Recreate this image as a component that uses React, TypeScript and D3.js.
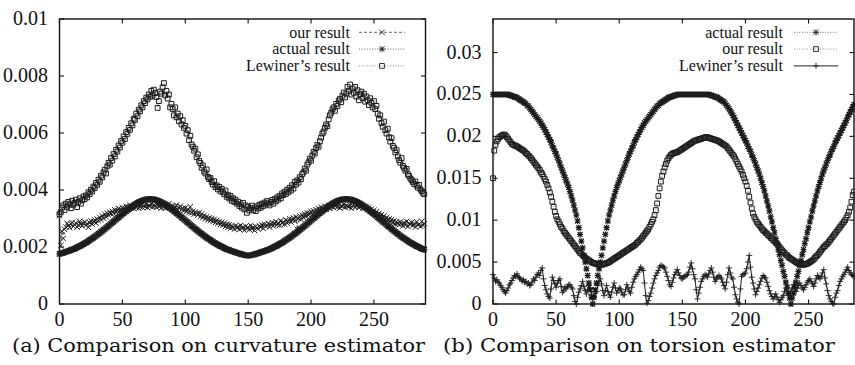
import React from 'react';
import * as d3 from 'd3';

// ---------- DATA ----------
// (a) curvature estimator, samples x = 0..290
const curvOur = [
  .0031,.00205,.00255,.0023,.00262,.0027,.00283,.00275,.00268,.00281,
  .00286,.00272,.00279,.00284,.0027,.00277,.0029,.00281,.00274,.00283,
  .00288,.00276,.00282,.00269,.00285,.00291,.0028,.00289,.00295,.00284,
  .00298,.00292,.00304,.00296,.00309,.00301,.00315,.00306,.00318,.00312,
  .00322,.00316,.00325,.00318,.0033,.00321,.00328,.00335,.00326,.00332,
  .00338,.00329,.00336,.00343,.00333,.0034,.00346,.00337,.00341,.00335,
  .00344,.00338,.00347,.00336,.00342,.00349,.00339,.00345,.00341,.0035,
  .00338,.00346,.00343,.00352,.0034,.00347,.00344,.00339,.00348,.00342,
  .00345,.00337,.00349,.00341,.00336,.00346,.0034,.00352,.00343,.00338,
  .00344,.00334,.00341,.00347,.0033,.00338,.00343,.00331,.00336,.00328,
  .00337,.00325,.00333,.00321,.00341,.0032,.00326,.00315,.00323,.00318,
  .00312,.0032,.00307,.00316,.00304,.00311,.00299,.00306,.00296,.00302,
  .00293,.003,.00289,.00297,.00286,.00294,.00283,.0029,.00279,.00287,
  .00276,.00284,.00272,.0028,.00269,.00278,.00266,.00275,.0027,.00263,
  .00274,.00267,.00271,.00262,.00276,.00265,.0027,.00259,.00273,.00266,
  .00268,.00262,.00275,.00264,.0027,.00258,.00272,.00267,.00263,.00274,
  .00269,.00277,.00265,.0028,.00272,.00276,.00283,.0027,.00279,.00286,
  .00274,.00282,.00289,.00278,.00285,.00276,.00292,.00283,.00288,.0028,
  .00295,.00284,.00291,.00299,.00288,.00296,.00302,.00291,.00305,.00262,
  .003,.00309,.00297,.00312,.00303,.00316,.00307,.0032,.00311,.00318,
  .00325,.00314,.00327,.0032,.00331,.00323,.00335,.00328,.00339,.0033,
  .00336,.00343,.00332,.0034,.00346,.00335,.00342,.00349,.00338,.00344,
  .00347,.0034,.00351,.00337,.00345,.00342,.0035,.00339,.00346,.00343,
  .00341,.00348,.00336,.00345,.0035,.00339,.00344,.00347,.00338,.00343,
  .00346,.00337,.00342,.00335,.0034,.00331,.00338,.00327,.00333,.00322,
  .00329,.00317,.00324,.00312,.00318,.00307,.00314,.00301,.00309,.00298,
  .00303,.00294,.00299,.00288,.00296,.00285,.00292,.0028,.00289,.00284,
  .00278,.00288,.00281,.00274,.00285,.00277,.0029,.00272,.00283,.00279,
  .00286,.00275,.00282,.0027,.00288,.00277,.00281,.00273,.0029,.00276,
  .00282,
];
const curvActual = [
  .00176,.00177,.00178,.0018,.00181,.00183,.00184,.00186,.00187,.00189,
  .00191,.00192,.00194,.00196,.00199,.00201,.00203,.00205,.00208,.0021,
  .00213,.00215,.00218,.00221,.00224,.00227,.0023,.00233,.00236,.00239,
  .00243,.00246,.00249,.00253,.00256,.0026,.00263,.00267,.00271,.00274,
  .00278,.00282,.00286,.00289,.00293,.00297,.00301,.00304,.00308,.00312,
  .00316,.00319,.00323,.00326,.0033,.00333,.00337,.0034,.00343,.00346,
  .00349,.00352,.00354,.00357,.00359,.00361,.00363,.00364,.00366,.00367,
  .00367,.00368,.00368,
  .00368,.00367,.00367,.00366,.00364,.00363,.00361,.00359,.00357,.00354,
  .00352,.00349,.00346,.00343,.0034,.00337,.00333,.0033,.00326,.00323,
  .00319,.00316,.00312,.00308,.00304,.00301,.00297,.00293,.00289,.00286,
  .00282,.00278,.00274,.00271,.00267,.00263,.0026,.00256,.00253,.00249,
  .00246,.00243,.00239,.00236,.00233,.0023,.00227,.00224,.00221,.00218,
  .00215,.00213,.0021,.00208,.00205,.00203,.00201,.00199,.00196,.00194,
  .00192,.00191,.00189,.00187,.00186,.00184,.00183,.00181,.0018,.00178,
  .00177,.00176,.00174,.00173,.00172,.00171,.00171,.0017,
  .00171,.00171,.00172,.00173,.00174,.00176,.00177,.00178,.0018,.00181,
  .00183,.00184,.00186,.00187,.00189,.00191,.00192,.00194,.00196,.00199,
  .00201,.00203,.00205,.00208,.0021,.00213,.00215,.00218,.00221,.00224,
  .00227,.0023,.00233,.00236,.00239,.00243,.00246,.00249,.00253,.00256,
  .0026,.00263,.00267,.00271,.00274,.00278,.00282,.00286,.00289,.00293,
  .00297,.00301,.00304,.00308,.00312,.00316,.00319,.00323,.00326,.0033,
  .00333,.00337,.0034,.00343,.00346,.00349,.00352,.00354,.00357,.00359,
  .00361,.00363,.00364,.00366,.00367,.00367,.00368,.00368,
  .00368,.00367,.00367,.00366,.00364,.00363,.00361,.00359,.00357,.00354,
  .00352,.00349,.00346,.00343,.0034,.00337,.00333,.0033,.00326,.00323,
  .00319,.00316,.00312,.00308,.00304,.00301,.00297,.00293,.00289,.00286,
  .00282,.00278,.00274,.00271,.00267,.00263,.0026,.00256,.00253,.00249,
  .00246,.00243,.00239,.00236,.00233,.0023,.00227,.00224,.00221,.00218,
  .00215,.00213,.0021,.00208,.00205,.00203,.00201,.00199,.00196,.00194,
  .00192,.00191,
];
const curvLewiner = [
  .00315,.00322,.00338,.00346,.0033,.00352,.00341,.00358,.00349,.00336,
  .00362,.00348,.00355,.00366,.0034,.00358,.00371,.00352,.00364,.00377,
  .00368,.00381,.00374,.00392,.00386,.00401,.00395,.00412,.00407,.00425,
  .00418,.00436,.00429,.0045,.00444,.00462,.00471,.00458,.00483,.00495,
  .00489,.00512,.00503,.00526,.00518,.00541,.00535,.00556,.00549,.00572,
  .00566,.00588,.00579,.00603,.00597,.00618,.00611,.00634,.00627,.0065,
  .00646,.00668,.00659,.00682,.00676,.00697,.0069,.00712,.00705,.00724,
  .00718,.00735,.00727,.00748,.00731,.00752,.0074,.00726,.00688,.00712,
  .00745,.00738,.0076,.00775,.00732,.00748,.00721,.00735,.0069,.00702,
  .00684,.00662,.0069,.00655,.00668,.00641,.00659,.0063,.00645,.00618,
  .00625,.00598,.0061,.00575,.0059,.0056,.00552,.00538,.00545,.00515,
  .00525,.00502,.00495,.00478,.00486,.00465,.00458,.00472,.00446,.00438,
  .00442,.00428,.00419,.00431,.0041,.00416,.00402,.00411,.00395,.00404,
  .00392,.00385,.00398,.00376,.00382,.0037,.00379,.00362,.00371,.00358,
  .00366,.00352,.00359,.00344,.0035,.00338,.00355,.00332,.00346,.0032,
  .00341,.00328,.00336,.00345,.0033,.00338,.00326,.00343,.00335,.00348,
  .00338,.00352,.00344,.00356,.00349,.00361,.00353,.00346,.00358,.00365,
  .00352,.00368,.0036,.00374,.00366,.00379,.00371,.00388,.00382,.00394,
  .00386,.00401,.00392,.00408,.00398,.00417,.00405,.00428,.00419,.00434,
  .00426,.00445,.00438,.00456,.00462,.00475,.00468,.00489,.00497,.0051,
  .00503,.00521,.00534,.00528,.00547,.00558,.00552,.00571,.00584,.00598,
  .00605,.00618,.0063,.00624,.00648,.00662,.00671,.00683,.0069,.00678,
  .00702,.00695,.00714,.0072,.00708,.00731,.00742,.00725,.00738,.00762,
  .00748,.0077,.00735,.00756,.00741,.00762,.00728,.0075,.00715,.00736,
  .00745,.00722,.00738,.0071,.00728,.00715,.00698,.00722,.00706,.0069,
  .00712,.00684,.00695,.00668,.0065,.00662,.00635,.00622,.0064,.0061,
  .00598,.00615,.00585,.0057,.00582,.00555,.00548,.00532,.0054,.00518,
  .00505,.00496,.00512,.00485,.00478,.00468,.00474,.00455,.00449,.0044,
  .00435,.00428,.00421,.0043,.00415,.00408,.00418,.00402,.00396,.0039,
  .00385,
];

// (b) torsion estimator, samples x = 0..286
const torsActual = [
  .025,.025,.025,.025,.025,.025,.025,.025,.025,.025,.025,.025,.025,
  .0249,.0249,.0248,.0248,.0247,.0247,.0246,.0245,.0244,.0243,.0242,.0241,.024,.0239,
  .0237,.0236,.0234,.0232,.023,.0228,.0226,.0224,.0222,.022,.0218,.0216,.0213,.0211,
  .0208,.0205,.0202,.0199,.0196,.0193,.0189,.0186,.0182,.0179,.0175,.0171,.0167,.0163,
  .0159,.0155,.0151,.0147,.0143,.0139,.0134,.0129,.0124,.0118,.0112,.0106,.0099,.0091,
  .0083,.0075,.0067,.0058,.005,.0042,.0034,.0025,.0017,.0008,0,
  .0008,.0017,.0025,.0034,.0042,.005,.0058,.0067,.0075,.0083,.0091,.0099,.0106,.0112,
  .0118,.0124,.0129,.0134,.0139,.0143,.0147,.0151,.0155,.0159,.0163,.0167,.0171,.0175,
  .0179,.0182,.0186,.0189,.0193,.0196,.0199,.0202,.0205,.0208,.0211,.0213,.0216,.0218,
  .022,.0222,.0224,.0226,.0228,.023,.0232,.0234,.0236,.0237,.0239,.024,.0241,.0242,
  .0243,.0244,.0245,.0246,.0247,.0247,.0248,.0248,.0249,.0249,.025,
  .025,.025,.025,.025,.025,.025,.025,.025,.025,.025,.025,
  .025,.025,.025,.025,.025,.025,.025,.025,.025,.025,.025,.025,.025,.025,
  .0249,.0249,.0248,.0248,.0247,.0247,.0246,.0245,.0244,.0243,.0242,.0241,.0239,.0237,
  .0235,.0233,.023,.0228,.0225,.0222,.0219,.0216,.0213,.021,.0207,.0204,.0201,.0198,
  .0195,.0192,.0188,.0185,.0182,.0178,.0175,.0171,.0167,.0163,.0159,.0155,.015,.0145,
  .014,.0135,.0129,.0123,.0117,.0111,.0104,.0098,.0091,.0085,.0078,.0072,.0065,.0059,
  .0052,.0046,.0039,.0033,.0026,.002,.0013,.0007,0,
  .0007,.0013,.002,.0026,.0033,.0039,.0046,.0052,.0059,.0065,.0072,.0078,.0085,.0091,
  .0098,.0104,.0111,.0117,.0123,.0129,.0135,.014,.0145,.015,.0155,.0159,.0163,.0167,
  .0171,.0175,.0178,.0182,.0185,.0188,.0192,.0195,.0198,.0201,.0204,.0207,.021,.0213,
  .0216,.0219,.0223,.0226,.0229,.0232,.0235,.0238,
];
const torsOur = [
  .015,.0183,.019,.0194,.0197,.0199,.02,.0201,.0202,.0202,
  .0201,.0199,.0197,.0195,.0193,.0191,.019,.0189,.0189,.0188,
  .0187,.0186,.0185,.0184,.0183,.0182,.018,.0179,.0177,.0176,
  .0174,.0172,.017,.0168,.0166,.0164,.0162,.016,.0157,.0155,
  .0152,.0149,.0146,.0142,.0138,.0133,.0128,.0122,.0116,.011,
  .0105,.0101,.0098,.0095,.0092,.009,.0087,.0085,.0083,.0081,
  .0079,.0077,.0075,.0073,.0071,.0069,.0067,.0065,.0063,.0061,
  .006,.0058,.0057,.0055,.0054,.0053,.0052,.0051,.005,.0049,
  .0049,.0048,.0048,.0047,.0047,.0047,.0047,.0047,.0048,.0048,
  .0049,.0049,.005,.0051,.0052,.0053,.0054,.0055,.0056,.0057,
  .0058,.0059,.006,.0061,.0062,.0063,.0064,.0065,.0066,.0067,
  .0068,.0069,.007,.0071,.0073,.0074,.0076,.0077,.0079,.0081,
  .0083,.0085,.0087,.0089,.0092,.0095,.0098,.0101,.0106,.0112,
  .012,.0129,.0138,.0146,.0153,.0158,.0163,.0167,.0171,.0174,
  .0176,.0178,.0179,.018,.018,.0181,.0181,.0182,.0183,.0184,
  .0185,.0186,.0187,.0188,.0189,.019,.0191,.0192,.0193,.0194,
  .0195,.0195,.0196,.0196,.0197,.0197,.0198,.0198,.0199,.0199,
  .0199,.0198,.0198,.0197,.0197,.0196,.0196,.0195,.0195,.0194,
  .0193,.0192,.0191,.019,.0189,.0188,.0186,.0184,.0182,.018,
  .0178,.0176,.0173,.017,.0167,.0164,.0161,.0158,.0154,.015,
  .0146,.0141,.0135,.0128,.0121,.0114,.0108,.0104,.0101,.0098,
  .0096,.0094,.0092,.009,.0088,.0087,.0085,.0084,.0082,.0081,
  .0079,.0078,.0076,.0075,.0073,.0072,.007,.0068,.0066,.0064,
  .0062,.0061,.0059,.0058,.0056,.0055,.0054,.0053,.0052,.0051,
  .005,.0049,.0048,.0048,.0047,.0047,.0047,.0047,.0048,.0048,
  .0049,.005,.0051,.0052,.0053,.0055,.0057,.0058,.006,.0062,
  .0064,.0066,.0068,.0069,.0071,.0072,.0074,.0076,.0078,.008,
  .0082,.0084,.0086,.0088,.009,.0092,.0094,.0096,.0098,.01,
  .0103,.0106,.011,.0115,.0122,.013,.0134,
];
const torsLewiner = [
  .0035,.0031,.0027,.0029,.0026,.0025,.0022,.002,.0017,.0015,
  .0013,.0016,.0019,.0023,.0025,.0028,.0031,.0034,.0033,.0036,
  .0032,.0031,.003,.0027,.0029,.0026,.0027,.0024,.0025,.0022,
  .0023,.0026,.003,.0028,.0032,.0035,.0037,.0034,.004,.0043,
  .003,.0022,.0017,.0012,.0009,.0007,.0018,.0032,.0028,.0024,
  .002,.0025,.0028,.003,.0021,.0014,.0016,.002,.0018,.0021,
  .0023,.0023,.002,.0018,.001,.0003,0,.0008,.0014,.0018,
  .0022,.0027,.0021,.0016,.0012,.0017,.0022,.0019,.0011,.0006,
  .0009,.0013,.0015,.0022,.0027,.003,.0024,.0016,.001,.0016,
  .0022,.0015,.0011,.0008,.0014,.002,.0025,.0019,.0013,.0016,
  .0019,.0018,.0014,.0011,.0011,.0017,.0023,.0019,.0015,.0013,
  .002,.0026,.003,.0033,.0035,.0038,.0041,.0044,.0042,.004,
  .0025,.001,.0001,.0004,.0009,.0013,.0019,.0025,.003,.0034,
  .0037,.004,.0044,.0046,.0045,.0044,.0043,.0038,.0033,.0028,
  .0023,.0021,.0026,.0031,.0035,.0038,.0041,.0037,.0034,.0031,
  .003,.0032,.0033,.0034,.0035,.0038,.0044,.0049,.0042,.0035,
  .003,.0017,.0006,.0013,.002,.0027,.003,.0033,.0035,.0034,
  .0032,.0036,.004,.0043,.0038,.0032,.0027,.003,.0032,.0034,
  .0032,.003,.0026,.0022,.0018,.0026,.0035,.0043,.0037,.0032,
  .003,.002,.0011,.0006,.0002,0,.0018,.0033,.0035,.0036,
  .0037,.0042,.005,.0058,.0044,.0032,.0025,.0018,.0011,.0015,
  .0019,.0023,.0027,.0031,.0034,.0032,.0031,.0026,.0021,.0016,
  .0012,.0009,.0006,.0009,.0012,.0008,.0005,.0002,.0005,.0008,
  .001,.0015,.0019,.0015,.0012,.001,.0015,.0019,.0023,.0019,
  .0015,.0019,.0022,.0025,.0022,.0019,.0017,.002,.0023,.0026,
  .0028,.003,.0027,.0024,.0021,.0025,.003,.0034,.0032,.003,
  .0033,.0037,.0041,.0031,.0024,.0016,.001,.0006,.0003,.0001,
  0,.0008,.0013,.0016,.0022,.0027,.003,.0033,.0035,.0038,
  .0041,.0044,.004,.0037,.0035,.0034,.0033,
];

const curvXTicks = [0, 50, 100, 150, 200, 250];
const curvYTicks = [0, 0.002, 0.004, 0.006, 0.008, 0.01];
const curvYTickLabels = ['0', '0.002', '0.004', '0.006', '0.008', '0.01'];
const torsXTicks = [0, 50, 100, 150, 200, 250];
const torsYTicks = [0, 0.005, 0.01, 0.015, 0.02, 0.025, 0.03];
const torsYTickLabels = ['0', '0.005', '0.01', '0.015', '0.02', '0.025', '0.03'];
const curvLabels = ['our result', 'actual result', 'Lewiner\u2019s result'];
const torsLabels = ['actual result', 'our result', 'Lewiner\u2019s result'];
const captions = ['(a) Comparison on curvature estimator', '(b) Comparison on torsion estimator'];

// ---------- DRAWING ----------
type Series = {
  label: string;
  values: number[];
  marker: 'cross' | 'star' | 'square' | 'plus';
  size: number;
  markWidth: number;
  dash: string | undefined;
  lineColor: string;
  lineWidth: number;
};

function addMarker(p: d3.Path, kind: string, cx: number, cy: number, s: number) {
  if (kind === 'cross' || kind === 'star') {
    p.moveTo(cx - s, cy - s); p.lineTo(cx + s, cy + s);
    p.moveTo(cx - s, cy + s); p.lineTo(cx + s, cy - s);
  }
  if (kind === 'plus' || kind === 'star') {
    const t = kind === 'star' ? s * 1.2 : s;
    p.moveTo(cx - t, cy); p.lineTo(cx + t, cy);
    p.moveTo(cx, cy - t); p.lineTo(cx, cy + t);
  }
  if (kind === 'square') {
    p.rect(cx - s, cy - s, 2 * s, 2 * s);
  }
}

const MARK = '#1c1c1c';
const SERIF = 'Liberation Serif';

function Panel(props: {
  L: number; R: number; T: number; B: number;
  xMax: number; yMax: number;
  xTicks: number[]; yTicks: number[]; yTickLabels: string[];
  series: Series[];
  legendTextX: number; legendX0: number; legendX1: number; legendY0: number;
}) {
  const { L, R, T, B, xMax, yMax, xTicks, yTicks, yTickLabels, series, legendTextX, legendX0, legendX1, legendY0 } = props;
  const x = d3.scaleLinear().domain([0, xMax]).range([L, R]);
  const y = d3.scaleLinear().domain([0, yMax]).range([B, T]);
  const line = d3.line<number>().x((_, i) => x(i)).y((v) => y(v));
  const tl = 4.5;
  return (
    <g>
      <rect x={L} y={T} width={R - L} height={B - T} fill="none" stroke="#111" strokeWidth={1.4} />
      {xTicks.map((t) => (
        <g key={'xt' + t}>
          <line x1={x(t)} x2={x(t)} y1={B} y2={B - tl} stroke="#111" strokeWidth={1.1} />
          <line x1={x(t)} x2={x(t)} y1={T} y2={T + tl} stroke="#111" strokeWidth={1.1} />
          <text x={x(t)} y={B + 22} textAnchor="middle" style={{ fontFamily: SERIF }} fontSize={20} fill="#111">{t}</text>
        </g>
      ))}
      {yTicks.map((t, i) => (
        <g key={'yt' + t}>
          <line x1={L} x2={L + tl} y1={y(t)} y2={y(t)} stroke="#111" strokeWidth={1.1} />
          <line x1={R} x2={R - tl} y1={y(t)} y2={y(t)} stroke="#111" strokeWidth={1.1} />
          <text x={L - 11.5} y={y(t)} dy="0.3em" textAnchor="end" style={{ fontFamily: SERIF }} fontSize={20} fill="#111">{yTickLabels[i]}</text>
        </g>
      ))}
      {series.map((s) => {
        const p = d3.path();
        s.values.forEach((v, i) => addMarker(p, s.marker, x(i), y(v), s.size));
        return (
          <g key={s.label}>
            <path d={line(s.values) || ''} fill="none" stroke={s.lineColor} strokeWidth={s.lineWidth} strokeDasharray={s.dash} />
            <path d={p.toString()} fill="none" stroke={MARK} strokeWidth={s.markWidth} />
          </g>
        );
      })}
      {series.map((s, i) => {
        const ly = legendY0 + i * 16.8;
        const p = d3.path();
        addMarker(p, s.marker, (legendX0 + legendX1) / 2, ly, s.size);
        return (
          <g key={'lg' + s.label}>
            <text x={legendTextX} y={ly} dy="0.33em" textAnchor="end" style={{ fontFamily: SERIF }} fontSize={16} fill="#111">{s.label}</text>
            <line x1={legendX0} x2={legendX1} y1={ly} y2={ly} stroke={s.lineColor} strokeWidth={s.lineWidth} strokeDasharray={s.dash} />
            <path d={p.toString()} fill="none" stroke={MARK} strokeWidth={0.9} />
          </g>
        );
      })}
    </g>
  );
}

export default function App() {
  const curvSeries: Series[] = [
    { label: curvLabels[0], values: curvOur, marker: 'cross', size: 2.7, markWidth: 1, dash: '3,2', lineColor: '#444', lineWidth: 0.8 },
    { label: curvLabels[1], values: curvActual, marker: 'star', size: 2.6, markWidth: 1.3, dash: '1,1.6', lineColor: '#444', lineWidth: 0.8 },
    { label: curvLabels[2], values: curvLewiner, marker: 'square', size: 2.4, markWidth: 1, dash: '1,1.6', lineColor: '#666', lineWidth: 0.7 },
  ];
  const torsSeries: Series[] = [
    { label: torsLabels[0], values: torsActual, marker: 'star', size: 2.5, markWidth: 1.2, dash: '1,1.6', lineColor: '#444', lineWidth: 0.8 },
    { label: torsLabels[1], values: torsOur, marker: 'square', size: 2.4, markWidth: 1, dash: '1,1.6', lineColor: '#666', lineWidth: 0.7 },
    { label: torsLabels[2], values: torsLewiner, marker: 'plus', size: 3, markWidth: 0.9, dash: undefined, lineColor: '#222', lineWidth: 1 },
  ];
  return (
    <svg width={855} height={365} style={{ position: 'absolute', left: 0, top: 0, background: '#fff' }}>
      <rect x={0} y={0} width={855} height={365} fill="#fff" />
      <Panel L={59.5} R={425.5} T={19} B={304} xMax={291} yMax={0.01}
        xTicks={curvXTicks} yTicks={curvYTicks} yTickLabels={curvYTickLabels}
        series={curvSeries} legendTextX={350} legendX0={359} legendX1={405} legendY0={32.3} />
      <Panel L={493} R={854} T={19} B={304} xMax={286} yMax={0.034}
        xTicks={torsXTicks} yTicks={torsYTicks} yTickLabels={torsYTickLabels}
        series={torsSeries} legendTextX={783} legendX0={794} legendX1={838} legendY0={32.3} />
      <text x={12} y={352} style={{ fontFamily: 'DejaVu Serif' }} fontSize={18} fill="#111" textLength={413} lengthAdjust="spacingAndGlyphs">{captions[0]}</text>
      <text x={443} y={352} style={{ fontFamily: 'DejaVu Serif' }} fontSize={18} fill="#111" textLength={392} lengthAdjust="spacingAndGlyphs">{captions[1]}</text>
    </svg>
  );
}
